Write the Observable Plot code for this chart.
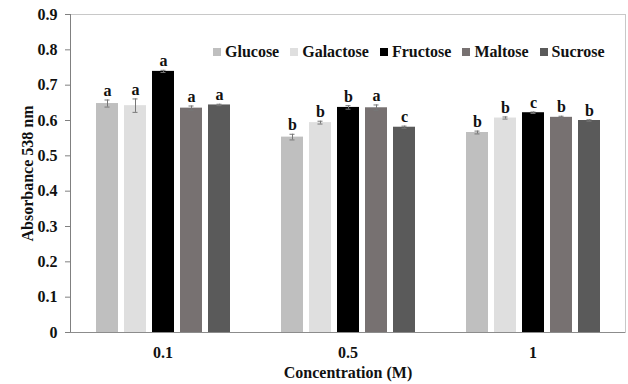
<!DOCTYPE html>
<html>
<head>
<meta charset="utf-8">
<script src="https://cdn.jsdelivr.net/npm/d3@7"></script>
<script src="https://cdn.jsdelivr.net/npm/@observablehq/plot@0.6"></script>
<style>
  html, body { margin: 0; padding: 0; background: #fff; }
  #wrap { position: relative; width: 628px; height: 384px; }
  #legend { position: absolute; left: 213px; top: 43px; display: flex; align-items: center;
    font-family: "Liberation Serif", "Times New Roman", serif; font-weight: bold; font-size: 16px; color: #111; }
  #legend .item { display: flex; align-items: center; margin-right: 11px; }
  #legend .sw { width: 8px; height: 8px; margin-right: 4px; }
</style>
</head>
<body>
<div id="wrap"><div id="legend"></div></div>
<script>
const concentrations = ["0.1", "0.5", "1"];
const sugars = ["Glucose", "Galactose", "Fructose", "Maltose", "Sucrose"];
const colors = ["#bfbfbf", "#dfdfdf", "#000000", "#777171", "#5a5a5a"];

const glucose   = [0.648, 0.553, 0.566];
const galactose = [0.642, 0.594, 0.607];
const fructose  = [0.739, 0.637, 0.622];
const maltose   = [0.635, 0.636, 0.609];
const sucrose   = [0.644, 0.581, 0.600];

const glucoseErr   = [0.010, 0.008, 0.004];
const galactoseErr = [0.019, 0.004, 0.003];
const fructoseErr  = [0.003, 0.005, 0.002];
const maltoseErr   = [0.006, 0.008, 0.003];
const sucroseErr   = [0.002, 0.003, 0.002];

const glucoseSig   = ["a", "b", "b"];
const galactoseSig = ["a", "b", "b"];
const fructoseSig  = ["a", "b", "c"];
const maltoseSig   = ["a", "a", "b"];
const sucroseSig   = ["a", "c", "b"];

const yTicks = [0, 0.1, 0.2, 0.3, 0.4, 0.5, 0.6, 0.7, 0.8, 0.9];

const values = [glucose, galactose, fructose, maltose, sucrose];
const errors = [glucoseErr, galactoseErr, fructoseErr, maltoseErr, sucroseErr];
const sigs = [glucoseSig, galactoseSig, fructoseSig, maltoseSig, sucroseSig];

const data = [];
concentrations.forEach((c, ci) => {
  sugars.forEach((s, si) => {
    data.push({conc: c, sugar: s, v: values[si][ci], e: errors[si][ci], sig: sigs[si][ci]});
  });
});

const font = "'Liberation Serif', 'Times New Roman', serif";
const edges = [
  {conc: concentrations[0], color: "#808080"},
  {conc: concentrations[concentrations.length - 1], color: "#c8c8c8"}
];

const chart = Plot.plot({
  width: 628,
  height: 384,
  marginLeft: 69,
  marginRight: 2,
  marginTop: 14,
  marginBottom: 52,
  style: {fontFamily: font, fontWeight: "bold", fontSize: "15px", color: "#111", background: "white", overflow: "visible"},
  fx: {domain: concentrations, padding: 0},
  x: {domain: sugars, paddingInner: 0.23, paddingOuter: 0.88, axis: null},
  y: {domain: [0, 0.9], ticks: yTicks, tickFormat: d3.format("~g")},
  color: {domain: sugars, range: colors},
  marks: [
    Plot.ruleY([yTicks[yTicks.length - 1]], {stroke: "#c8c8c8"}),
    Plot.frame({anchor: "left", stroke: edges[0].color, fx: [edges[0].conc]}),
    Plot.frame({anchor: "right", stroke: edges[1].color, fx: [edges[1].conc]}),
    Plot.ruleY([0], {stroke: "#8c8c8c"}),
    Plot.barY(data, {fx: "conc", x: "sugar", y: "v", fill: "sugar"}),
    Plot.ruleX(data, {fx: "conc", x: "sugar", y1: d => d.v - d.e, y2: d => d.v + d.e, stroke: "#777", strokeWidth: 1}),
    Plot.tickY(data, {fx: "conc", x: "sugar", y: d => d.v + d.e, stroke: "#777", insetLeft: 8.5, insetRight: 8.5}),
    Plot.tickY(data, {fx: "conc", x: "sugar", y: d => d.v - d.e, stroke: "#777", insetLeft: 8.5, insetRight: 8.5}),
    Plot.text(data, {fx: "conc", x: "sugar", y: d => d.v + d.e, text: "sig", dy: -4, lineAnchor: "bottom", fontSize: 16, fontWeight: "bold", fill: "#111"}),
    Plot.axisY({ticks: yTicks, tickFormat: d3.format("~g"), tickSize: 5, tickPadding: 8, stroke: "#808080",
      label: "Absorbance 538 nm", labelAnchor: "center", labelOffset: 49, labelArrow: "none", fontSize: 16}),
    Plot.axisFx({anchor: "bottom", tickSize: 0, tickPadding: 14, label: "Concentration (M)", labelAnchor: "center", labelOffset: 45, labelArrow: "none", fontSize: 16})
  ]
});

const wrap = document.getElementById("wrap");
wrap.insertBefore(chart, wrap.firstChild);

const legend = document.getElementById("legend");
sugars.forEach((s, i) => {
  const item = document.createElement("div");
  item.className = "item";
  const sw = document.createElement("span");
  sw.className = "sw";
  sw.style.background = colors[i];
  const t = document.createElement("span");
  t.textContent = s;
  item.appendChild(sw);
  item.appendChild(t);
  legend.appendChild(item);
});
</script>
</body>
</html>
